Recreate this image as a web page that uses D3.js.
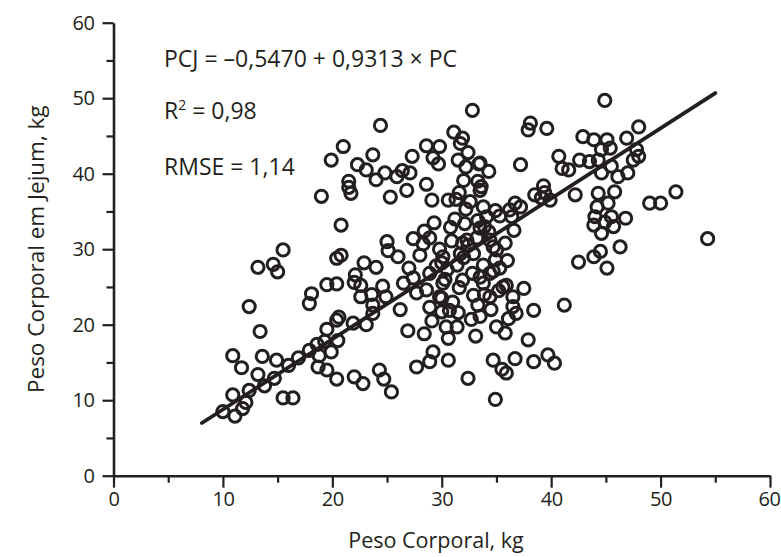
<!DOCTYPE html>
<html><head><meta charset="utf-8">
<script src="https://cdn.jsdelivr.net/npm/d3@7"></script>
<style>
html,body{margin:0;padding:0;background:#fff;}
svg{display:block;}
text{font-family:"Open Sans","Noto Sans",sans-serif;fill:#231f20;}
</style></head>
<body>
<svg id="chart" width="781" height="557"></svg>
<script>
// ---- data ----
const xTicks = [0, 10, 20, 30, 40, 50, 60];
const yTicks = [0, 10, 20, 30, 40, 50, 60];
const minorTicks = [5, 15, 25, 35, 45, 55];
const xLabel = "Peso Corporal, kg";
const yLabel = "Peso Corporal em Jejum, kg";
const regression = { intercept: -0.5470, slope: 0.9313 };
const regressionRange = [8.08, 55.0];
const annotations = ["PCJ = –0,5470 + 0,9313 × PC", "R", "RMSE = 1,14"];
// [Peso Corporal, Peso Corporal em Jejum]
const pontos = [
[10.0,8.5],[10.9,10.7],[11.1,7.9],[11.8,8.9],[12.1,9.7],[12.4,11.3],[10.9,15.9],[11.7,14.3],[12.4,22.4],[13.4,19.1],
[13.6,15.8],[14.9,15.3],[13.2,13.4],[13.8,11.9],[14.7,12.9],[13.2,27.6],[14.6,28.0],[15.0,27.0],[15.5,29.9],[15.5,10.3],
[16.4,10.3],[16.0,14.6],[16.9,15.6],[17.9,16.6],[18.6,17.4],[19.3,17.8],[18.8,15.9],[18.7,14.4],[19.5,14.0],[19.9,16.4],
[20.4,20.6],[19.5,19.4],[20.5,17.9],[20.4,12.8],[17.9,22.8],[18.1,24.1],[19.5,25.3],[20.4,25.4],[20.6,21.0],[21.9,20.2],
[23.1,20.0],[23.7,21.5],[22.0,13.1],[22.8,12.2],[24.3,14.0],[24.7,12.8],[25.4,11.1],
[19.9,41.8],[21.0,43.6],[19.0,37.0],[20.8,33.2],[20.8,29.2],[20.4,28.8],[22.3,41.2],[23.1,40.5],[21.5,39.0],
[21.7,37.4],[21.5,38.2],[23.7,42.5],[24.4,46.4],[24.0,39.2],[24.8,40.1],[25.3,36.9],[25.9,39.6],[26.4,40.4],[26.8,37.8],
[27.1,40.1],[27.3,42.3],
[22.1,26.6],[22.0,25.6],[22.6,23.7],[22.9,28.2],[23.6,24.0],[23.7,22.6],[24.6,25.1],[24.9,23.7],[25.0,31.0],[25.1,29.8],
[26.0,29.0],[26.2,22.0],[26.5,25.5],[26.9,19.2],[27.4,26.2],[27.4,31.4],[27.7,24.2],[28.0,29.2],[28.3,30.7],[28.4,32.4],
[28.6,24.6],[28.9,26.8],[28.9,31.5],[28.4,18.8],[28.9,22.3],[27.7,14.4],[28.9,15.1],[29.2,16.4],[30.6,15.3],[22.6,25.2],
[28.6,43.7],[29.8,43.6],[29.2,42.1],[29.7,41.3],[28.6,38.6],[29.1,36.5],[30.6,36.5],[31.1,45.5],[31.9,44.7],[31.7,44.0],
[32.4,42.8],[31.5,41.8],[32.2,40.9],[33.4,41.3],[34.3,40.3],[32.8,48.4],[32.0,39.1],[33.3,39.0],[31.6,37.5],[33.5,37.8],
[31.3,36.6],[32.6,36.3],[32.2,35.3],[33.8,35.6],[34.9,35.1],[34.1,34.3],[35.3,34.4],[36.2,35.2],[36.7,36.1],[36.4,34.3],
[37.2,35.6],[33.3,33.8],[30.8,32.9],[33.5,41.4],[33.6,38.3],
[30.9,31.1],[30.1,29.0],[32.3,31.2],[31.7,29.4],[33.5,32.8],[34.3,32.3],[34.4,31.2],[32.9,29.4],[35.0,29.9],[34.9,28.6],
[30.0,28.2],[30.5,27.3],[32.0,28.9],[32.4,30.5],[33.8,27.9],[35.3,27.5],[31.4,27.9],[29.8,30.0],[31.9,30.8],[33.2,31.5],
[33.9,33.0],[34.7,30.3],[35.6,25.0],[33.8,25.5],[34.4,23.7],
[30.0,23.5],[30.0,21.7],[30.7,21.9],[31.5,21.6],[31.6,24.9],[32.7,20.7],[30.4,19.7],[30.6,18.2],[31.4,19.7],[33.1,18.5],
[33.3,22.6],[33.5,21.1],[34.5,22.0],[35.0,19.7],[35.8,18.9],[36.1,20.8],[36.8,21.5],[36.5,22.4],[35.2,24.5],[35.9,25.2],
[37.5,24.8],[38.4,21.9],[37.9,18.0],[34.4,26.8],[33.5,26.3],[29.8,23.7],[30.1,25.5],[34.7,27.1],[36.5,23.7],[32.4,12.9],
[34.9,10.1],[34.7,15.3],[35.5,14.1],[35.9,13.6],[36.7,15.5],[38.4,15.1],[39.7,16.0],[40.3,14.9],[41.2,22.6],
[38.1,46.7],[37.9,45.8],[39.6,46.0],[37.2,41.2],[40.7,42.3],[41.0,40.7],[41.6,40.5],[39.9,36.5],[38.5,37.2],[39.3,38.4],
[39.4,37.5],[39.1,36.8],[42.2,37.2],
[42.9,44.9],[43.9,44.5],[45.1,44.5],[46.9,44.7],[48.0,46.2],[44.6,43.2],[45.4,43.4],[47.8,43.2],[42.6,41.8],[43.5,41.6],
[44.3,41.8],[45.5,41.0],[46.1,39.6],[47.5,41.8],[48.0,42.3],[47.0,40.1],[44.6,40.1],
[44.3,37.4],[44.2,35.6],[44.0,34.3],[43.9,33.2],[44.6,32.1],[45.5,34.3],[45.7,33.0],[46.8,34.1],[45.8,37.6],[45.2,36.1],
[44.9,33.6],[42.5,28.3],[43.9,29.0],[44.5,29.7],[45.1,27.5],[46.3,30.3],
[49.0,36.1],[50.0,36.1],[51.4,37.6],[54.3,31.4],[44.9,49.7],
[29.3,33.5],[31.2,34.0],[30.3,26.0],[32.8,26.8],[31.0,23.0],[33.9,24.0],[36.0,28.5],[35.8,30.8],[36.6,32.5],[29.5,27.8],
[27.0,27.5],[24.0,27.6],[32.9,23.9],[31.9,25.9],[29.1,20.5],[32.1,33.4]
];

// ---- chart ----
const ink = "#231f20";
const font = '"Open Sans","Noto Sans",sans-serif';
const svg = d3.select("#chart");
const x = d3.scaleLinear().domain([0, 60]).range([113.5, 770]);
const y = d3.scaleLinear().domain([0, 60]).range([475.7, 22.7]);

// x axis: minor + major ticks
const gx = svg.append("g").attr("transform", `translate(0,${y(0)})`);
gx.call(d3.axisBottom(x).tickValues(minorTicks).tickSize(7).tickFormat(""))
  .call(g => g.select(".domain").remove());
const gxMajor = gx.append("g").call(d3.axisBottom(x).tickValues(xTicks).tickSize(12).tickSizeOuter(0).tickPadding(4).tickFormat(d3.format("d")));
// y axis
const gy = svg.append("g").attr("transform", `translate(${x(0)},0)`);
gy.call(d3.axisLeft(y).tickValues(minorTicks).tickSize(7).tickFormat(""))
  .call(g => g.select(".domain").remove());
gy.append("g").call(d3.axisLeft(y).tickValues(yTicks).tickSize(11).tickSizeOuter(0).tickPadding(8).tickFormat(d3.format("d")));

svg.selectAll(".domain").attr("stroke", ink).attr("stroke-width", 2.6);
svg.selectAll(".tick line").attr("stroke", ink).attr("stroke-width", 2.2);
svg.selectAll(".tick text").attr("font-family", font).attr("font-size", 20).attr("fill", ink)
   .attr("letter-spacing", -0.4);
// keep the last x label inside the canvas
gxMajor.selectAll(".tick text").filter(d => d === 60).attr("text-anchor", "end").attr("dx", 10);

// axis titles
svg.append("text").attr("x", 436).attr("y", 548).attr("text-anchor", "middle")
   .attr("font-size", 21.5).text(xLabel);
svg.append("text").attr("transform", `translate(44,${(y(0)+y(60))/2}) rotate(-90)`)
   .attr("text-anchor", "middle").attr("font-size", 22.5).text(yLabel);

// regression line
svg.append("line")
  .attr("x1", x(regressionRange[0])).attr("y1", y(regression.intercept + regression.slope*regressionRange[0]))
  .attr("x2", x(regressionRange[1])).attr("y2", y(regression.intercept + regression.slope*regressionRange[1]))
  .attr("stroke", ink).attr("stroke-width", 3.8).attr("stroke-linecap", "round");

// points
svg.append("g").selectAll("circle").data(pontos).join("circle")
  .attr("cx", d => x(d[0])).attr("cy", d => y(d[1])).attr("r", 6.1)
  .attr("fill", "none").attr("stroke", ink).attr("stroke-width", 3);

// annotations
const ann = svg.append("g").attr("font-size", 23);
ann.append("text").attr("x", 164).attr("y", 67).text(annotations[0]);
const r2 = ann.append("text").attr("x", 164).attr("y", 119);
r2.append("tspan").text("R");
r2.append("tspan").attr("font-size", 14).attr("dy", -9).text("2");
r2.append("tspan").attr("dy", 9).text(" = 0,98");
ann.append("text").attr("x", 164).attr("y", 175).text(annotations[2]);
</script>
</body></html>
